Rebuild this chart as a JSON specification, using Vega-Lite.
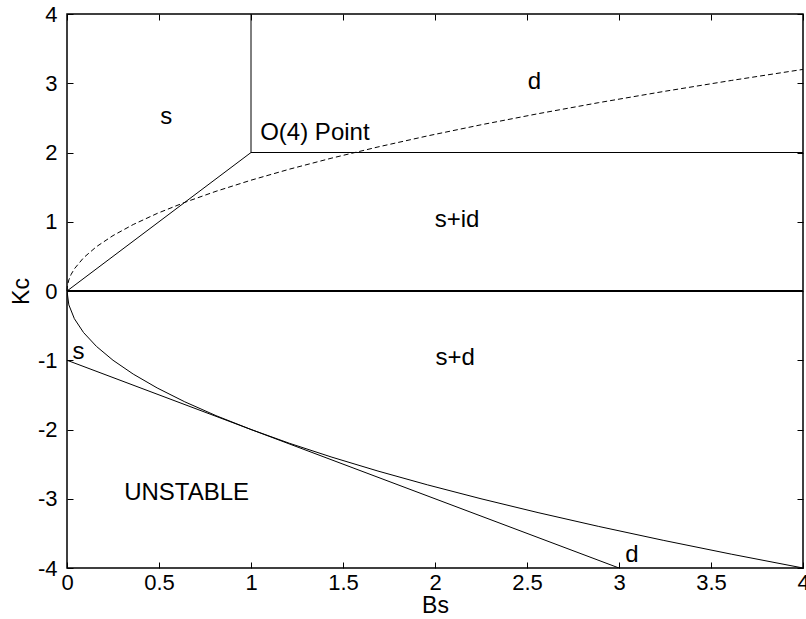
{
  "$schema": "https://vega.github.io/schema/vega-lite/v6.json",
  "width": 736,
  "height": 554,
  "autosize": {"type": "none"},
  "padding": {"left": 67, "top": 14, "right": 3, "bottom": 51},
  "background": "white",
  "config": {
    "view": {"stroke": "black", "strokeWidth": 1.5},
    "axis": {"grid": false, "domain": false, "labelFont": "Liberation Sans", "titleFont": "Liberation Sans", "labelFontSize": 22, "titleFontSize": 23, "titleFontWeight": "normal", "labelColor": "black", "titleColor": "black", "tickColor": "black", "tickSize": -6, "tickWidth": 1, "labelExpr": "datum.value + ''"}
  },
  "datasets": {
    "solid": [
      {"seg": "vert", "x": 1, "y": 2},
      {"seg": "vert", "x": 1, "y": 4},
      {"seg": "diag", "x": 0, "y": 0},
      {"seg": "diag", "x": 1, "y": 2},
      {"seg": "h2", "x": 1, "y": 2},
      {"seg": "h2", "x": 4, "y": 2},
      {"seg": "tangent", "x": 0, "y": -1},
      {"seg": "tangent", "x": 3, "y": -4},
      {"seg": "lower", "x": 0, "y": 0},
      {"seg": "lower", "x": 0.01, "y": -0.2},
      {"seg": "lower", "x": 0.04, "y": -0.4},
      {"seg": "lower", "x": 0.09, "y": -0.6},
      {"seg": "lower", "x": 0.16, "y": -0.8},
      {"seg": "lower", "x": 0.25, "y": -1.0},
      {"seg": "lower", "x": 0.36, "y": -1.2},
      {"seg": "lower", "x": 0.49, "y": -1.4},
      {"seg": "lower", "x": 0.64, "y": -1.6},
      {"seg": "lower", "x": 0.81, "y": -1.8},
      {"seg": "lower", "x": 1.0, "y": -2.0},
      {"seg": "lower", "x": 1.21, "y": -2.2},
      {"seg": "lower", "x": 1.44, "y": -2.4},
      {"seg": "lower", "x": 1.69, "y": -2.6},
      {"seg": "lower", "x": 1.96, "y": -2.8},
      {"seg": "lower", "x": 2.25, "y": -3.0},
      {"seg": "lower", "x": 2.56, "y": -3.2},
      {"seg": "lower", "x": 2.89, "y": -3.4},
      {"seg": "lower", "x": 3.24, "y": -3.6},
      {"seg": "lower", "x": 3.61, "y": -3.8},
      {"seg": "lower", "x": 4.0, "y": -4.0}
    ],
    "zero": [
      {"x": 0, "y": 0},
      {"x": 4, "y": 0}
    ],
    "dashed": [
      {"x": 0, "y": 0},
      {"x": 0.0025, "y": 0.08},
      {"x": 0.01, "y": 0.16},
      {"x": 0.0225, "y": 0.24},
      {"x": 0.04, "y": 0.32},
      {"x": 0.09, "y": 0.48},
      {"x": 0.16, "y": 0.64},
      {"x": 0.25, "y": 0.8},
      {"x": 0.36, "y": 0.96},
      {"x": 0.49, "y": 1.12},
      {"x": 0.64, "y": 1.28},
      {"x": 0.81, "y": 1.44},
      {"x": 1.0, "y": 1.6},
      {"x": 1.21, "y": 1.76},
      {"x": 1.44, "y": 1.92},
      {"x": 1.69, "y": 2.08},
      {"x": 1.96, "y": 2.24},
      {"x": 2.25, "y": 2.4},
      {"x": 2.56, "y": 2.56},
      {"x": 2.89, "y": 2.72},
      {"x": 3.24, "y": 2.88},
      {"x": 3.61, "y": 3.04},
      {"x": 4.0, "y": 3.2}
    ],
    "labels": [
      {"text": "s", "x": 0.54, "y": 2.51},
      {"text": "d", "x": 2.54, "y": 3.02},
      {"text": "s+id", "x": 2.12, "y": 1.03},
      {"text": "s+d", "x": 2.11, "y": -0.97},
      {"text": "UNSTABLE", "x": 0.65, "y": -2.92},
      {"text": "d", "x": 3.07, "y": -3.81}
    ],
    "leftlabels": [
      {"text": "O(4) Point", "x": 1.05, "y": 2.28},
      {"text": "s", "x": 0.03, "y": -0.88}
    ]
  },
  "layer": [
    {
      "data": {"name": "solid"},
      "mark": {"type": "line", "color": "black", "strokeWidth": 1, "clip": true},
      "encoding": {
        "x": {"field": "x", "type": "quantitative", "scale": {"domain": [0, 4], "nice": false}, "axis": {"title": "Bs", "orient": "bottom", "values": [0, 0.5, 1, 1.5, 2, 2.5, 3, 3.5, 4], "labelPadding": 10, "titlePadding": 1, "labelFlush": false}},
        "y": {"field": "y", "type": "quantitative", "scale": {"domain": [-4, 4], "nice": false}, "axis": {"title": "Kc", "orient": "left", "values": [-4, -3, -2, -1, 0, 1, 2, 3, 4], "labelPadding": 16, "titlePadding": 4, "labelFlush": false}},
        "detail": {"field": "seg"},
        "order": {"field": "x", "type": "quantitative"}
      }
    },
    {
      "data": {"name": "zero"},
      "mark": {"type": "line", "color": "black", "strokeWidth": 2},
      "encoding": {
        "x": {"field": "x", "type": "quantitative", "axis": {"orient": "top", "title": null, "labels": false, "values": [0, 0.5, 1, 1.5, 2, 2.5, 3, 3.5, 4]}},
        "y": {"field": "y", "type": "quantitative", "axis": {"orient": "right", "title": null, "labels": false, "values": [-4, -3, -2, -1, 0, 1, 2, 3, 4]}}
      }
    },
    {
      "data": {"name": "dashed"},
      "mark": {"type": "line", "color": "black", "strokeWidth": 1, "strokeDash": [5, 3]},
      "encoding": {
        "x": {"field": "x", "type": "quantitative", "axis": null},
        "y": {"field": "y", "type": "quantitative", "axis": null}
      }
    },
    {
      "data": {"name": "labels"},
      "mark": {"type": "text", "font": "Liberation Sans", "fontSize": 24, "color": "black", "align": "center", "baseline": "middle"},
      "encoding": {
        "x": {"field": "x", "type": "quantitative", "axis": null},
        "y": {"field": "y", "type": "quantitative", "axis": null},
        "text": {"field": "text"}
      }
    },
    {
      "data": {"name": "leftlabels"},
      "mark": {"type": "text", "font": "Liberation Sans", "fontSize": 24, "color": "black", "align": "left", "baseline": "middle"},
      "encoding": {
        "x": {"field": "x", "type": "quantitative", "axis": null},
        "y": {"field": "y", "type": "quantitative", "axis": null},
        "text": {"field": "text"}
      }
    }
  ],
  "resolve": {"axis": {"x": "independent", "y": "independent"}}
}
